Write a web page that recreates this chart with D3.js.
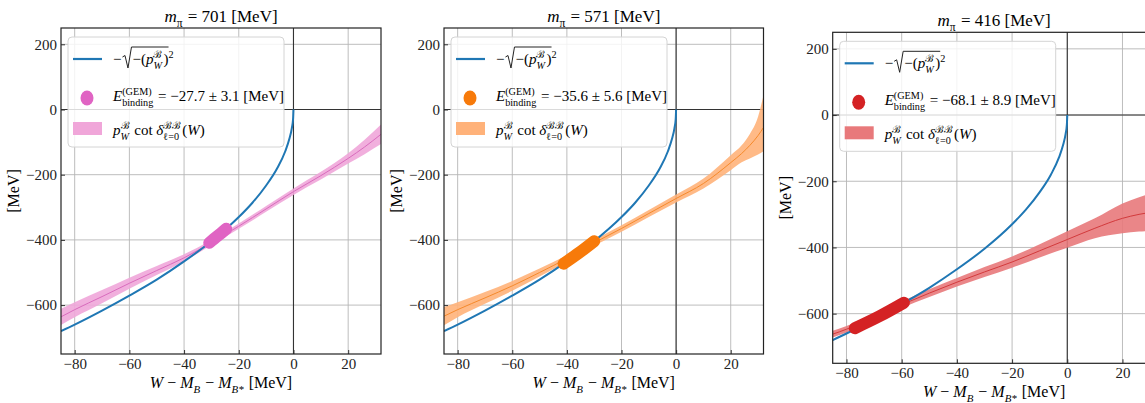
<!DOCTYPE html>
<html>
<head>
<meta charset="utf-8">
<script src="https://cdn.jsdelivr.net/npm/d3@7"></script>
<style>
  body { margin: 0; background: #fff; }
  svg { display: block; }
</style>
</head>
<body>
<svg id="chart" width="1145" height="403"></svg>
<script>
// values
const pionMasses = [701, 571, 416];
const bindingE = [-27.7, -35.6, -68.1];
const bindingErr = [3.1, 5.6, 8.9];
const xTicks = [-80, -60, -40, -20, 0, 20];
const yTicks = [-600, -400, -200, 0, 200];

// -sqrt(-(p_W)^2), same curve in all three panels
const blueX = [-85, -80, -70, -60, -50, -40, -30, -20, -15, -10, -6, -3, -1.5, -0.6, -0.15, 0];
const blueY = [-680, -660, -617, -571, -522, -466, -404, -330, -286, -233, -181, -128, -90, -57, -29, 0];

// p cot delta bands
const band1X = [-85, -80, -70, -60, -50, -40, -30, -20, -10, 0, 10, 20, 26, 32];
const band1Mid = [-636, -614, -574, -533, -494, -455, -408, -358, -305, -252, -203, -150, -115, -76];
const band1Lo = [-661, -637, -594, -550, -508, -466, -416, -366, -314, -262, -215, -166, -137, -106];
const band1Hi = [-611, -591, -554, -516, -480, -444, -400, -350, -296, -242, -191, -134, -93, -46];

const band2X = [-85, -80, -70, -60, -50, -40, -30, -20, -10, 0, 10, 20, 24, 27, 30, 32];
const band2Mid = [-634, -614, -578, -541, -500, -457, -409, -365, -319, -273, -227, -163, -135, -110, -80, -55];
const band2Lo = [-662, -637, -596, -556, -512, -467, -418, -375, -330, -285, -242, -186, -162, -150, -138, -128];
const band2Hi = [-606, -591, -560, -526, -488, -447, -400, -355, -308, -261, -212, -140, -110, -75, -22, 44];

const band3X = [-85, -80, -70, -60, -50, -40, -30, -20, -10, 0, 10, 20, 26, 32];
const band3Mid = [-662, -647, -610, -573, -538, -505, -474, -444, -410, -376, -342, -312, -300, -292];
const band3Lo = [-672, -657, -620, -583, -550, -518, -489, -461, -430, -401, -372, -357, -352, -350];
const band3Hi = [-652, -637, -600, -563, -526, -492, -459, -427, -390, -351, -312, -267, -248, -234];

// GEM binding energy marks (E - err, E, E + err) on the blue curve
const mark1X = [-30.8, -27.7, -24.6], mark1Y = [-409, -388, -366];
const mark2X = [-41.2, -35.6, -30.0], mark2Y = [-473, -440, -404];
const mark3X = [-77.0, -68.1, -59.2], mark3Y = [-644, -608, -567];

const FONT = "'Liberation Serif', 'DejaVu Serif', serif";
const SP = "\u00A0";

const panels = [
  { box: [61, 381, 28, 354], bx: band1X, mid: band1Mid, lo: band1Lo, hi: band1Hi, mx: mark1X, my: mark1Y,
    fill: "#f0a6d9", line: "#d96bbd", mark: "#e064c3" },
  { box: [444, 763.5, 28, 354], bx: band2X, mid: band2Mid, lo: band2Lo, hi: band2Hi, mx: mark2X, my: mark2Y,
    fill: "#ffb27a", line: "#f58a2c", mark: "#f77a0a" },
  { box: [832.7, 1155.6, 32.3, 363.3], bx: band3X, mid: band3Mid, lo: band3Lo, hi: band3Hi, mx: mark3X, my: mark3Y,
    fill: "#e8797b", line: "#d23a3c", mark: "#d42224" }
];

const svg = d3.select("#chart");

// writes a row of math pieces, each may carry a stacked sup/sub
function mathRun(g, x, y, parts, size) {
  let cx = x;
  parts.forEach(p => {
    if (p.t) {
      const t = g.append("text").attr("x", cx).attr("y", y)
        .style("font-family", FONT).style("font-size", size + "px")
        .style("font-style", p.it ? "italic" : "normal")
        .text(p.t.replace(/ /g, SP));
      cx += t.node().getComputedTextLength();
    }
    let w = 0;
    if (p.sup) {
      const s = g.append("text").attr("x", cx).attr("y", y - size * 0.42)
        .style("font-family", FONT).style("font-size", size * 0.68 + "px")
        .style("font-style", p.supIt ? "italic" : "normal")
        .text(p.sup);
      w = Math.max(w, s.node().getComputedTextLength());
    }
    if (p.sub) {
      const s = g.append("text").attr("x", cx).attr("y", y + size * 0.3)
        .style("font-family", FONT).style("font-size", size * 0.68 + "px")
        .style("font-style", p.subIt ? "italic" : "normal")
        .text(p.sub);
      w = Math.max(w, s.node().getComputedTextLength());
    }
    cx += w ? w + 1 : 0;
  });
  return cx;
}

function centered(g, cx, y, parts, size) {
  const inner = g.append("g");
  const end = mathRun(inner, 0, y, parts, size);
  inner.attr("transform", `translate(${cx - end / 2},0)`);
}

panels.forEach((p, i) => {
  const [left, right, top, bottom] = p.box;
  const x = d3.scaleLinear().domain([-85, 32]).range([left, right]);
  const y = d3.scaleLinear().domain([-750, 250]).range([bottom, top]);
  const g = svg.append("g");

  const clipId = "clip" + i;
  g.append("clipPath").attr("id", clipId)
    .append("rect").attr("x", left).attr("y", top)
    .attr("width", right - left).attr("height", bottom - top);

  // grid
  g.append("g").selectAll("line").data(xTicks).join("line")
    .attr("x1", d => x(d)).attr("x2", d => x(d))
    .attr("y1", top).attr("y2", bottom)
    .attr("stroke", "#b5b5b5").attr("stroke-width", 0.9);
  g.append("g").selectAll("line").data(yTicks).join("line")
    .attr("x1", left).attr("x2", right)
    .attr("y1", d => y(d)).attr("y2", d => y(d))
    .attr("stroke", "#b5b5b5").attr("stroke-width", 0.9);

  // zero lines
  g.append("line").attr("x1", x(0)).attr("x2", x(0)).attr("y1", top).attr("y2", bottom)
    .attr("stroke", "#333").attr("stroke-width", 1.1);
  g.append("line").attr("x1", left).attr("x2", right).attr("y1", y(0)).attr("y2", y(0))
    .attr("stroke", "#333").attr("stroke-width", 1.1);

  const plot = g.append("g").attr("clip-path", `url(#${clipId})`);

  const bandData = p.bx.map((v, k) => ({ x: v, mid: p.mid[k], lo: p.lo[k], hi: p.hi[k] }));
  plot.append("path").datum(bandData)
    .attr("fill", p.fill).attr("fill-opacity", 0.9)
    .attr("d", d3.area().curve(d3.curveMonotoneX)
      .x(d => x(d.x)).y0(d => y(d.lo)).y1(d => y(d.hi)));
  plot.append("path").datum(bandData)
    .attr("fill", "none").attr("stroke", p.line).attr("stroke-width", 1)
    .attr("d", d3.line().curve(d3.curveMonotoneX).x(d => x(d.x)).y(d => y(d.mid)));

  const blueData = blueX.map((v, k) => [v, blueY[k]]);
  plot.append("path").datum(blueData)
    .attr("fill", "none").attr("stroke", "#1f77b4").attr("stroke-width", 2)
    .attr("d", d3.line().curve(d3.curveMonotoneX).x(d => x(d[0])).y(d => y(d[1])));

  const markData = p.mx.map((v, k) => [v, p.my[k]]);
  plot.append("path").datum(markData)
    .attr("fill", "none").attr("stroke", p.mark).attr("stroke-width", 12)
    .attr("stroke-linecap", "round").attr("stroke-linejoin", "round")
    .attr("d", d3.line().curve(d3.curveMonotoneX).x(d => x(d[0])).y(d => y(d[1])));

  // axes
  const xAxis = g.append("g").attr("transform", `translate(0,${bottom})`)
    .call(d3.axisBottom(x).tickValues(xTicks).tickSizeInner(-4).tickSizeOuter(0).tickPadding(4)
      .tickFormat(d => d < 0 ? "\u2212" + Math.abs(d) : d));
  const yAxis = g.append("g").attr("transform", `translate(${left},0)`)
    .call(d3.axisLeft(y).tickValues(yTicks).tickSizeInner(-4).tickSizeOuter(0).tickPadding(4)
      .tickFormat(d => d < 0 ? "\u2212" + Math.abs(d) : d));
  [xAxis, yAxis].forEach(a => {
    a.select(".domain").remove();
    a.selectAll(".tick line").attr("stroke", "#333");
    a.selectAll("text").style("font-family", FONT).style("font-size", "15px").attr("fill", "#222");
  });

  // frame
  g.append("rect").attr("x", left).attr("y", top)
    .attr("width", right - left).attr("height", bottom - top)
    .attr("fill", "none").attr("stroke", "#222").attr("stroke-width", 1.2);

  // legend
  const lg = g.append("g").attr("transform", `translate(${left + 7},${top + 9})`);
  lg.append("rect").attr("width", 216).attr("height", 110).attr("rx", 4)
    .attr("fill", "#fff").attr("fill-opacity", 0.82).attr("stroke", "#d4d4d4");
  lg.append("line").attr("x1", 5).attr("x2", 34).attr("y1", 22).attr("y2", 22)
    .attr("stroke", "#1f77b4").attr("stroke-width", 2.2);

  // -sqrt(-(p)^2)
  const lsz = 15;
  const after = mathRun(lg, 45, 27, [{ t: "\u2212" }], lsz);
  const rootStart = after + 11;
  const rootEnd = mathRun(lg, rootStart, 27, [
    { t: "\u2212(" },
    { t: "p", it: true, sup: "\u212C", sub: "W", subIt: true },
    { t: ")", sup: "2" }
  ], lsz);
  lg.append("path")
    .attr("d", `M${after + 1},${20} L${after + 3.5},${18.5} L${after + 6.5},${31} L${after + 10},${10} L${rootEnd - 6},${10}`)
    .attr("fill", "none").attr("stroke", "#222").attr("stroke-width", 1);

  lg.append("ellipse").attr("cx", 19).attr("cy", 61).attr("rx", 6.5).attr("ry", 7.5).attr("fill", p.mark);
  mathRun(lg, 45, 64, [
    { t: "E", it: true, sup: "(GEM)", sub: "binding" },
    { t: " = \u2212" + Math.abs(bindingE[i]).toFixed(1) + " \u00B1 " + bindingErr[i].toFixed(1) + " [MeV]" }
  ], lsz);

  lg.append("rect").attr("x", 5).attr("y", 85).attr("width", 29).attr("height", 13)
    .attr("fill", p.fill);
  mathRun(lg, 45, 98, [
    { t: "p", it: true, sup: "\u212C", sub: "W", subIt: true },
    { t: " cot " },
    { t: "\u03B4", it: true, sup: "\u212C\u212C", sub: "\u2113=0" },
    { t: "(" }, { t: "W", it: true }, { t: ")" }
  ], lsz);

  // title and axis labels
  const cx = (left + right) / 2;
  centered(g, cx, top - 6, [
    { t: "m", it: true, sub: "\u03C0" },
    { t: " = " + pionMasses[i] + " [MeV]" }
  ], 17);
  centered(g, cx, bottom + 34, [
    { t: "W", it: true }, { t: " \u2212 " },
    { t: "M", it: true, sub: "B", subIt: true }, { t: " \u2212 " },
    { t: "M", it: true, sub: "B*", subIt: true }, { t: " [MeV]" }
  ], 16);
  g.append("text")
    .attr("transform", `translate(${left - 42},${(top + bottom) / 2}) rotate(-90)`)
    .attr("text-anchor", "middle")
    .style("font-family", FONT).style("font-size", "16px")
    .text("[MeV]");
});
</script>
</body>
</html>
